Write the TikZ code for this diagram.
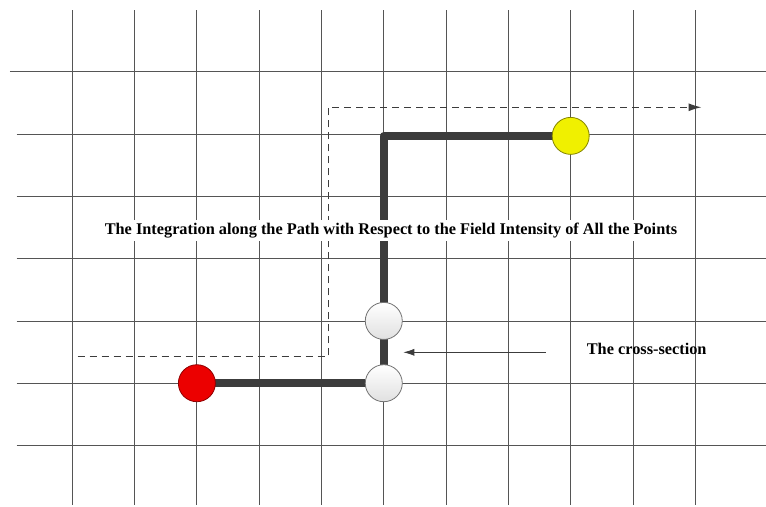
\documentclass[tikz,border=0pt]{standalone}
\usepackage{fontspec}
\setmainfont{Liberation Serif}
\usetikzlibrary{arrows.meta}
\definecolor{GridClr}{RGB}{85,85,85}
\definecolor{PathClr}{RGB}{60,60,60}
\definecolor{StartClr}{RGB}{236,0,0}
\definecolor{EndClr}{RGB}{240,240,0}

\tikzset{
  pt/.style={circle,minimum size=37pt,inner sep=0pt,line width=0.8pt},
  route/.style={line width=8pt,color=PathClr,line join=round},
  guide/.style={line width=1.2pt,color=PathClr,dash pattern=on 7pt off 5pt},
  lbl/.style={font=\bfseries\fontsize{16.3}{18}\selectfont}
}

\begin{document}
\begin{tikzpicture}[x=62.3pt,y=-62.3pt]
\useasboundingbox (-1.160,-1.151) rectangle (11.135,6.971);

\foreach \i in {0,...,10}
  \draw[GridClr,line width=0.8pt] (\i,-0.99) -- (\i,6.955);
\draw[GridClr,line width=0.8pt] (-1.0,0) -- (11.135,0);
\foreach \j in {1,...,6}
  \draw[GridClr,line width=0.8pt] (-0.892,\j) -- (11.135,\j);

\coordinate (r) at (2,5);
\coordinate (w1) at (5,5);
\coordinate (w2) at (5,4);
\coordinate (y) at (8,1.03);

\coordinate (g0) at (0.087,4.575);
\coordinate (g1) at (4.109,0.571);
\coordinate (g2) at (10.10,0.571);
\draw[guide,-{Latex[length=13pt,width=8pt]}] (g0) -| (g1) -- (g2);

\draw[route] (r) -- (w1) -- (w2) |- (y);

\node[pt,fill=StartClr,draw=StartClr!60!black] (R) at (r) {};
\node[pt,top color=white,bottom color=black!12,draw=black!55] (W1) at (w1) {};
\node[pt,top color=white,bottom color=black!12,draw=black!55] (W2) at (w2) {};
\node[pt,fill=EndClr,draw=EndClr!55!black] (Y) at (y) {};

\coordinate (c0) at (7.60,4.504);
\coordinate (c1) at (5.313,4.504);
\draw[PathClr,line width=0.8pt,-{Latex[length=11pt,width=7pt]}] (c0) -- (c1);
\node[lbl] (sec) at (9.22,4.456) {The cross-section};

\node[lbl,fill=white,inner xsep=1pt,inner ysep=3pt] (cap) at (5.115,2.552)
  {The Integration along the Path with Respect to the Field Intensity of All the Points};

\end{tikzpicture}
\end{document}
